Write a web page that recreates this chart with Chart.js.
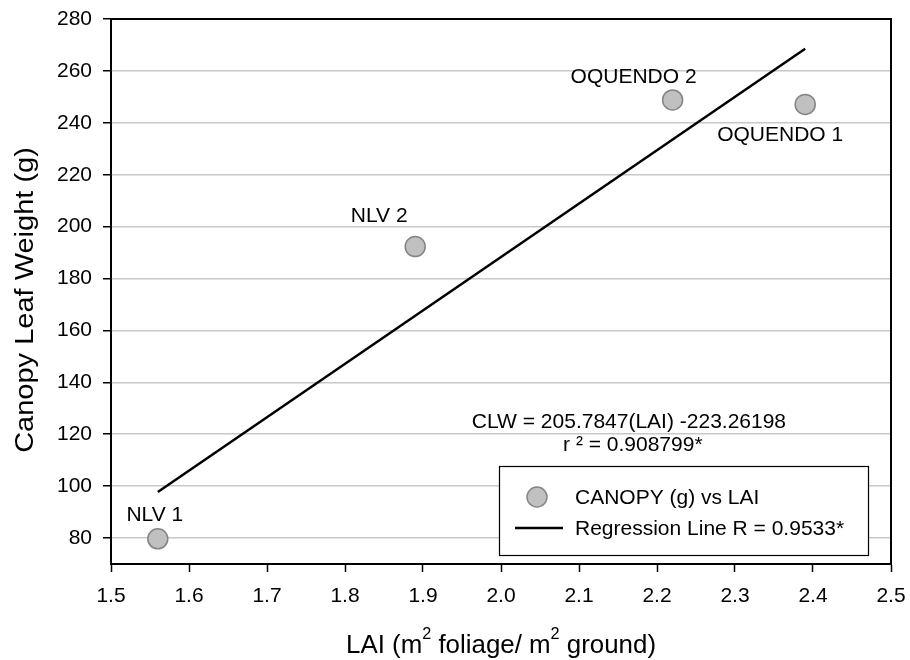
<!DOCTYPE html>
<html lang="en">
<head>
    <meta charset="UTF-8">
    <title>Canopy Leaf Weight vs LAI</title>
    <script src="https://cdn.jsdelivr.net/npm/chart.js"></script>
    <style>
        * { margin: 0; padding: 0; box-sizing: border-box; }
        body { background: #ffffff; }
        .chart-box { width: 910px; height: 660px; }
    </style>
</head>
<body>
    <div class="chart-box">
        <canvas id="lwChart" width="910" height="660"></canvas>
    </div>

    <script>
        // Measured plots: leaf area index and total canopy leaf weight
        const lai = [1.56, 1.89, 2.22, 2.39];
        const canopyWeight = [79.7, 192.3, 248.8, 247.1];
        const siteNames = ['NLV 1', 'NLV 2', 'OQUENDO 2', 'OQUENDO 1'];

        // Regression line end points, CLW = 205.7847(LAI) - 223.26198
        const regLai = [1.56, 2.39];
        const regWeight = [97.76, 268.57];

        const xTicks = [1.5, 1.6, 1.7, 1.8, 1.9, 2.0, 2.1, 2.2, 2.3, 2.4, 2.5];
        const yTicks = [80, 100, 120, 140, 160, 180, 200, 220, 240, 260, 280];

        const equationLines = ['CLW = 205.7847(LAI) -223.26198', 'r \u00B2 = 0.908799*'];
        const legendLabels = ['CANOPY (g) vs LAI', 'Regression Line R = 0.9533*'];

        const FONT = '"Liberation Sans", Arial, sans-serif';
        const POINT_FILL = '#c0c0c0';
        const POINT_EDGE = '#858585';

        // label offsets in pixels from each point
        const labelOffsets = [[-3, -18], [-36, -25], [-39, -17], [-25, 37]];

        // site names, equation, legend, frame and axis titles
        const annotations = {
            id: 'annotations',
            afterDatasetsDraw(chart) {
                const ctx = chart.ctx;
                const xs = chart.scales.x, ys = chart.scales.y;
                const area = chart.chartArea;
                ctx.save();
                ctx.fillStyle = '#000';
                ctx.font = '21px ' + FONT;
                ctx.textAlign = 'center';
                ctx.textBaseline = 'alphabetic';

                siteNames.forEach((name, i) => {
                    const px = xs.getPixelForValue(lai[i]);
                    const py = ys.getPixelForValue(canopyWeight[i]);
                    ctx.fillText(name, px + labelOffsets[i][0], py + labelOffsets[i][1]);
                });

                ctx.fillText(equationLines[0], xs.getPixelForValue(2.164), ys.getPixelForValue(122.4));
                ctx.fillText(equationLines[1], xs.getPixelForValue(2.169), ys.getPixelForValue(113.6));

                // legend box
                const lx = 499, ly = 466, lw = 369, lh = 89;
                ctx.fillStyle = '#fff';
                ctx.fillRect(lx, ly, lw, lh);
                ctx.strokeStyle = '#000';
                ctx.lineWidth = 1.2;
                ctx.strokeRect(lx + 0.5, ly + 0.5, lw, lh);

                ctx.beginPath();
                ctx.arc(537, 497, 10, 0, Math.PI * 2);
                ctx.fillStyle = POINT_FILL;
                ctx.fill();
                ctx.lineWidth = 1.5;
                ctx.strokeStyle = POINT_EDGE;
                ctx.stroke();

                ctx.beginPath();
                ctx.moveTo(515, 528);
                ctx.lineTo(563, 528);
                ctx.lineWidth = 2.5;
                ctx.strokeStyle = '#000';
                ctx.stroke();

                ctx.fillStyle = '#000';
                ctx.textAlign = 'left';
                ctx.textBaseline = 'middle';
                ctx.fillText(legendLabels[0], 575, 498);
                ctx.fillText(legendLabels[1], 575, 529);

                // top and right frame
                ctx.beginPath();
                ctx.moveTo(area.left, area.top);
                ctx.lineTo(area.right, area.top);
                ctx.lineTo(area.right, area.bottom);
                ctx.lineWidth = 2;
                ctx.strokeStyle = '#000';
                ctx.stroke();

                // y axis title
                ctx.save();
                ctx.translate(33, 300);
                ctx.rotate(-Math.PI / 2);
                ctx.scale(1.16, 1);
                ctx.font = '25px ' + FONT;
                ctx.textAlign = 'center';
                ctx.textBaseline = 'alphabetic';
                ctx.fillText('Canopy Leaf Weight (g)', 0, 0);
                ctx.restore();

                // x axis title with superscripts
                const parts = [
                    ['LAI (m', false], ['2', true], [' foliage/ m', false], ['2', true], [' ground)', false]
                ];
                const big = '25.5px ' + FONT, small = '16px ' + FONT;
                let total = 0;
                parts.forEach(p => { ctx.font = p[1] ? small : big; total += ctx.measureText(p[0]).width; });
                const stretch = 310 / total;
                ctx.save();
                ctx.translate(501 - 155, 0);
                ctx.scale(stretch, 1);
                let cx = 0;
                ctx.textAlign = 'left';
                ctx.textBaseline = 'alphabetic';
                parts.forEach(p => {
                    ctx.font = p[1] ? small : big;
                    ctx.fillText(p[0], cx, p[1] ? 639 : 653);
                    cx += ctx.measureText(p[0]).width;
                });
                ctx.restore();
                ctx.restore();
            }
        };

        new Chart(document.getElementById('lwChart'), {
            type: 'scatter',
            data: {
                datasets: [
                    {
                        label: legendLabels[0],
                        data: lai.map((x, i) => ({ x: x, y: canopyWeight[i] })),
                        pointRadius: 10,
                        pointBackgroundColor: POINT_FILL,
                        pointBorderColor: POINT_EDGE,
                        pointBorderWidth: 1.5,
                        order: 1
                    },
                    {
                        label: legendLabels[1],
                        data: regLai.map((x, i) => ({ x: x, y: regWeight[i] })),
                        showLine: true,
                        borderColor: '#000',
                        borderWidth: 2.5,
                        pointRadius: 0,
                        order: 2
                    }
                ]
            },
            options: {
                responsive: false,
                animation: false,
                layout: { padding: { top: 19, right: 19, left: 0, bottom: 0 } },
                plugins: {
                    legend: { display: false },
                    tooltip: { enabled: false }
                },
                scales: {
                    x: {
                        type: 'linear',
                        min: 1.5,
                        max: 2.5,
                        afterBuildTicks: s => { s.ticks = xTicks.map(v => ({ value: v })); },
                        afterFit: s => {
                            s.height = 96;
                            s.paddingLeft = 0;
                            s.paddingRight = 0;
                        },
                        ticks: {
                            color: '#000',
                            font: { family: FONT, size: 21 },
                            padding: 12,
                            maxRotation: 0,
                            callback: v => v.toFixed(1)
                        },
                        grid: {
                            drawOnChartArea: false,
                            tickLength: 8,
                            tickColor: '#000',
                            tickWidth: 1.5
                        },
                        border: { color: '#000', width: 2 }
                    },
                    y: {
                        type: 'linear',
                        min: 70,
                        max: 280,
                        afterBuildTicks: s => { s.ticks = yTicks.map(v => ({ value: v })); },
                        afterFit: s => {
                            s.width = 111;
                            s.paddingTop = 0;
                            s.paddingBottom = 0;
                        },
                        ticks: {
                            color: '#000',
                            font: { family: FONT, size: 21 },
                            padding: 11
                        },
                        grid: {
                            color: '#c8c8c8',
                            lineWidth: 1.5,
                            tickLength: 8,
                            tickColor: '#000',
                            tickWidth: 1.5
                        },
                        border: { color: '#000', width: 2 }
                    }
                }
            },
            plugins: [annotations]
        });
    </script>
</body>
</html>
